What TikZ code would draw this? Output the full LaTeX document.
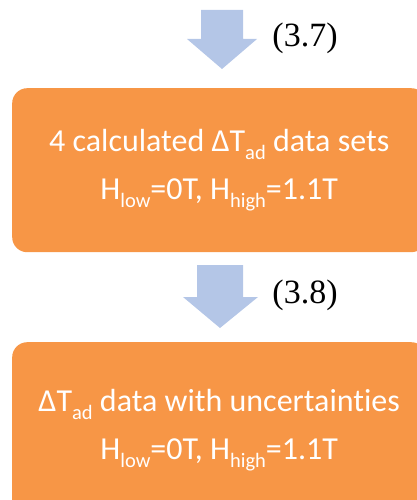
\documentclass[tikz,border=0pt]{standalone}
\usepackage{fontspec}
\setmainfont[Ligatures=NoCommon]{Carlito}
\newfontfamily\eqfont{Liberation Serif}
\definecolor{boxorange}{HTML}{F79646}
\definecolor{arrowblue}{HTML}{B4C6E7}
\newcommand\subs[1]{\raisebox{-0.23em}{\fontsize{20.5}{20.5}\selectfont #1}}
\tikzset{
  procbox/.style={fill=boxorange, draw=none, rounded corners=15pt, minimum width=414pt,
    align=center, text=white, font=\fontsize{32}{48}\selectfont, inner sep=0pt, anchor=north west},
  eqlabel/.style={font=\eqfont\fontsize{34}{34}\selectfont, text=black, inner sep=0pt},
  blockarrow/.style={fill=arrowblue, draw=none}
}
\begin{document}
\begin{tikzpicture}[x=1pt,y=1pt]
\useasboundingbox (0,0) rectangle (417,-500);
% block arrow 1
\fill[blockarrow] (201,-10) -- (243,-10) -- (243,-39) -- (257,-39) -- (222,-69) -- (187,-39) -- (201,-39) -- cycle;
\node[eqlabel] (eq1) at (305,-38) {(3.7)};
% box 1
\node[procbox, minimum height=164pt] (box1) at (12,-88)
  {4 calculated ΔT\subs{ad} data sets\\H\subs{low}=0T, H\subs{high}=1.1T};
% block arrow 2
\fill[blockarrow] (197,-265) -- (243,-265) -- (243,-297) -- (258,-297) -- (220,-328) -- (183,-297) -- (197,-297) -- cycle;
\node[eqlabel] (eq2) at (305,-295) {(3.8)};
% box 2
\node[procbox, minimum height=176pt, yshift=0pt] (box2) at (12,-342)
  {\raisebox{0pt}{ΔT\subs{ad} data with uncertainties}\\H\subs{low}=0T, H\subs{high}=1.1T};
\end{tikzpicture}
\end{document}
